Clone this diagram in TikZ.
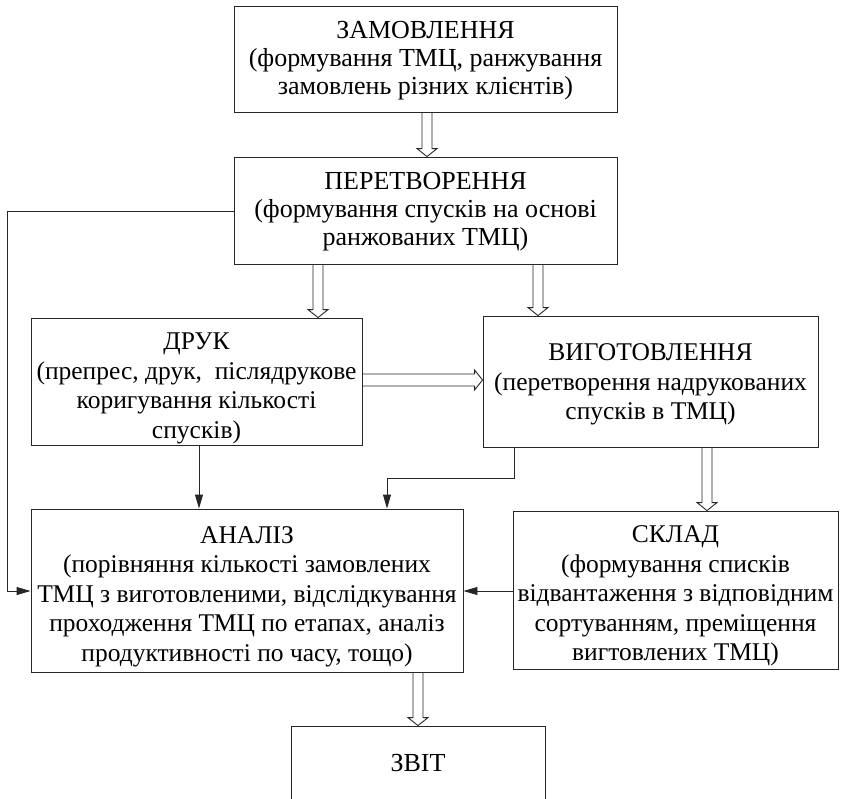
\documentclass[tikz,border=0pt]{standalone}
\usepackage{fontspec}
\setmainfont{Liberation Serif}
\usetikzlibrary{arrows.meta,calc}
\newcommand\topstrut[1]{\rule{0pt}{#1}}
\begin{document}
\begin{tikzpicture}[x=1pt,y=-1pt,
  box/.style={draw=black!85, line width=0.9pt, inner sep=0pt, align=center,
    font=\fontsize{26}{28}\selectfont},
  lbox/.style={box, font=\fontsize{25.5}{29.5}\selectfont},
  conn/.style={draw=black!85, line width=0.9pt, -{Triangle[length=14pt,width=8pt]}},
  hollowv/.style={draw=black!85, line width=0.9pt, to path={let \p1=(\tikztostart), \p2=(\tikztotarget) in
    (\x1-5pt,\y1) -- (\x1-5pt,\y2+8pt) -- (\x1-10pt,\y2+8pt) -- (\x1,\y2) -- (\x1+10pt,\y2+8pt) -- (\x1+5pt,\y2+8pt) -- (\x1+5pt,\y1)}},
  hollowh/.style={draw=black!85, line width=0.9pt, to path={let \p1=(\tikztostart), \p2=(\tikztotarget) in
    (\x1,\y1+6pt) -- (\x2-8pt,\y1+6pt) -- (\x2-8pt,\y1+10pt) -- (\x2,\y1) -- (\x2-8pt,\y1-10pt) -- (\x2-8pt,\y1-6pt) -- (\x1,\y1-6pt)}}
]
\useasboundingbox (0,0) rectangle (842,798);
\clip (0,0) rectangle (842,798);

\node[box, minimum width=383pt, minimum height=106pt] (zam) at (425.5,59)
  {\topstrut{21pt}ЗАМОВЛЕННЯ\\(формування ТМЦ, ранжування\\замовлень різних клієнтів)};
\node[box, minimum width=383pt, minimum height=107pt] (per) at (425.5,210.5)
  {\topstrut{20pt}ПЕРЕТВОРЕННЯ\\(формування спусків на основі\\ранжованих ТМЦ)};
\node[lbox, minimum width=331pt, minimum height=127pt] (druk) at (196.5,381.5)
  {\topstrut{30pt}ДРУК\\(препрес, друк,~ післядрукове\\коригування кількості\\спусків)};
\node[lbox, minimum width=335pt, minimum height=131pt] (vyg) at (650.5,381.5)
  {\topstrut{23pt}ВИГОТОВЛЕННЯ\\(перетворення надрукованих\\спусків в ТМЦ)};
\node[lbox, minimum width=432pt, minimum height=163pt] (anal) at (247,590.5)
  {\topstrut{29pt}АНАЛІЗ\\(порівняння кількості замовлених\\ТМЦ з виготовленими, відслідкування\\проходження ТМЦ по етапах, аналіз\\продуктивності по часу, тощо)};
\node[lbox, minimum width=325pt, minimum height=158pt] (sklad) at (675.5,590)
  {\topstrut{29pt}СКЛАД\\(формування списків\\відвантаження з відповідним\\сортуванням, преміщення\\вигтовлених ТМЦ)};
\node[box, minimum width=254pt, minimum height=74pt] (zvit) at (418,763) {ЗВІТ};

% hollow block arrows
\path[hollowv] (zam.south -| 427,0) to (per.north -| 427,0);
\path[hollowv] (per.south -| 318,0) to (druk.north -| 318,0);
\path[hollowv] (per.south -| 538,0) to (vyg.north -| 538,0);
\path[hollowh] (druk.east |- 0,380) to (vyg.west |- 0,380);
\path[hollowv] (vyg.south -| 707,0) to (sklad.north -| 707,0);
\path[hollowv] (anal.south -| 418,0) to (zvit.north -| 418,0);

% single arrows
\coordinate (c1) at (7,211);
\coordinate (c2) at (7,591);
\coordinate (c3) at (514,478);
\coordinate (c4) at (387,478);
\draw[conn] (druk.south -| 199,0) -- (anal.north -| 199,0);
\draw[conn] (vyg.south -| c3) -- (c3) -- (c4) -- (anal.north -| c4);
\draw[conn] (sklad.west |- 0,591) -- (anal.east |- 0,591);
\draw[conn] (per.west |- c1) -- (c1) -- (c2) -- (anal.west |- c2);
\end{tikzpicture}
\end{document}
